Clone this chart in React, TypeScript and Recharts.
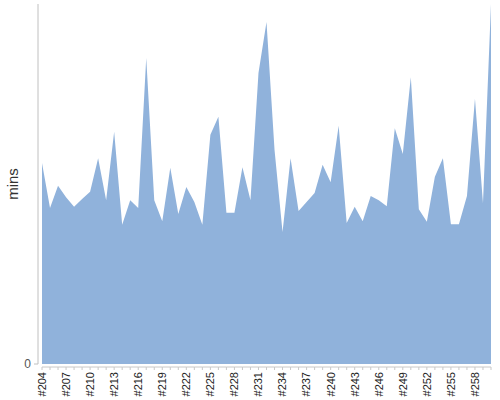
import React from "react";
import { AreaChart, Area, XAxis, YAxis, Label } from "recharts";

// build numbers #204 .. #260
const builds = [
  "#204", "#205", "#206", "#207", "#208", "#209", "#210", "#211", "#212", "#213",
  "#214", "#215", "#216", "#217", "#218", "#219", "#220", "#221", "#222", "#223",
  "#224", "#225", "#226", "#227", "#228", "#229", "#230", "#231", "#232", "#233",
  "#234", "#235", "#236", "#237", "#238", "#239", "#240", "#241", "#242", "#243",
  "#244", "#245", "#246", "#247", "#248", "#249", "#250", "#251", "#252", "#253",
  "#254", "#255", "#256", "#257", "#258", "#259", "#260",
];

const durations = [
  33.5, 26.0, 29.7, 27.8, 26.2, 27.5, 28.7, 34.3, 27.3, 38.7,
  23.2, 27.3, 26.0, 51.0, 27.3, 23.8, 32.7, 25.0, 29.5, 27.0,
  23.2, 38.2, 41.2, 25.2, 25.2, 32.8, 27.3, 48.5, 57.0, 35.7,
  22.0, 34.3, 25.5, 27.0, 28.5, 33.2, 30.3, 39.7, 23.5, 26.2,
  23.8, 28.0, 27.3, 26.3, 39.3, 35.0, 47.8, 25.8, 23.7, 31.2,
  34.3, 23.3, 23.3, 28.0, 44.2, 26.8, 60.0,
];

const yTicks = [0];

const data = builds.map((name, i) => ({ name, mins: durations[i] }));

const STEP = 448.7 / (builds.length - 1);

function BuildTick(props: any) {
  const { x, y, index, payload } = props;
  const last = index === builds.length - 1;
  return (
    <g>
      {!last && (
        <line x1={x} y1={y + 3} x2={x + STEP} y2={y + 3} stroke="#c8c8c8" strokeWidth={1} />
      )}
      <line x1={x} y1={y + 3} x2={x} y2={y + 6} stroke="#c8c8c8" strokeWidth={1} />
      {index % 3 === 0 && (
        <g transform={`translate(${x},${y + 8})`}>
          <text
            transform="rotate(-90)"
            textAnchor="end"
            dy="0.35em"
            fontSize={11}
            fontFamily="Liberation Sans, Arial, sans-serif"
            fill="#222"
          >
            {payload.value}
          </text>
        </g>
      )}
    </g>
  );
}

export default function App() {
  return (
    <div style={{ position: "absolute", left: 0, top: 0, width: 500, height: 400, background: "#fff" }}>
      <AreaChart
        width={500}
        height={400}
        data={data}
        margin={{ top: 4, right: 9, left: 0, bottom: 0 }}
      >
        <XAxis
          dataKey="name"
          interval={0}
          axisLine={false}
          tickLine={false}
          tickSize={0}
          tickMargin={0}
          height={36}
          padding={{ left: 4, right: 0 }}
          tick={<BuildTick />}
        />
        <YAxis
          width={38}
          domain={[0, "dataMax"]}
          ticks={yTicks}
          stroke="#c0c0c0"
          tickSize={4}
          tickMargin={3}
          tick={{ fill: "#555", fontSize: 12, fontFamily: "Liberation Sans, Arial, sans-serif" }}
        >
          <Label
            content={({ viewBox }: any) => (
              <text
                x={13}
                y={viewBox.y + viewBox.height / 2}
                transform={`rotate(-90, 13, ${viewBox.y + viewBox.height / 2})`}
                textAnchor="middle"
                dy="0.35em"
                fontSize={15}
                fontFamily="Liberation Sans, Arial, sans-serif"
                fill="#333"
              >
                mins
              </text>
            )}
          />
        </YAxis>
        <Area
          type="linear"
          dataKey="mins"
          stroke="none"
          fill="#90b2db"
          fillOpacity={1}
          isAnimationActive={false}
        />
      </AreaChart>
    </div>
  );
}
